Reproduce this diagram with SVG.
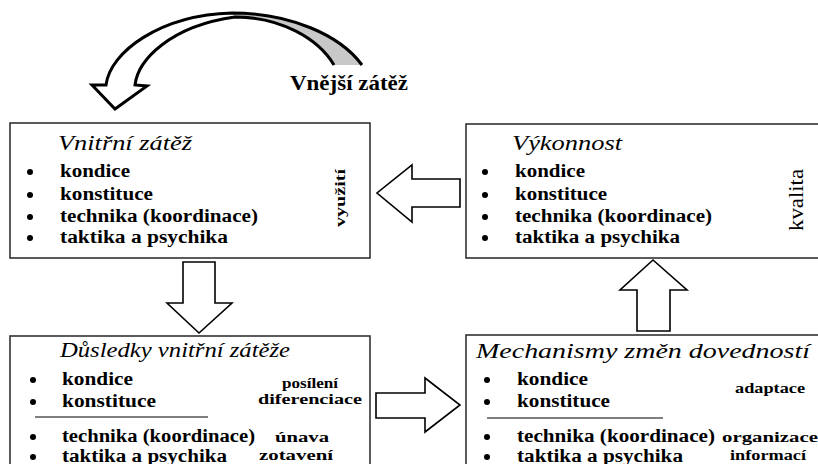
<svg xmlns="http://www.w3.org/2000/svg" width="818" height="464" viewBox="0 0 818 464">
<style>
.box{fill:#fff;stroke:#333;stroke-width:1.6}
.arr{fill:#fff;stroke:#000;stroke-width:1.6;stroke-linejoin:miter}
.sep{stroke:#000;stroke-width:1.2}
.t{font-family:"Liberation Serif","Times New Roman","DejaVu Serif",serif;font-size:20px;font-style:italic;fill:#000}
.b{font-family:"Liberation Serif","Times New Roman","DejaVu Serif",serif;font-size:18px;font-weight:bold;fill:#000}
.l{font-family:"Liberation Serif","Times New Roman","DejaVu Serif",serif;font-size:14px;font-weight:bold;fill:#000}
.r{font-family:"Liberation Serif","Times New Roman","DejaVu Serif",serif;fill:#000}
.dot{fill:#000}
</style>
<rect width="818" height="464" fill="#fff"/>

<g id="external-load">
  <path d="M235,17 C280,17 318,38 334,65 L362,65 C340,35 290,13 232,13 Z" fill="#c8c8c8"/>
  <path d="M362,65 C340,35 290,13 232,13 C160,15 110,52 106,85 L92,85 L115,109 L147,86 L135,85 C138,60 170,26 235,17 C280,17 318,38 334,65" fill="none" stroke="#000" stroke-width="3" stroke-linejoin="miter"/>
  <text class="r" x="290" y="90" font-size="21" font-weight="bold" textLength="118" lengthAdjust="spacingAndGlyphs">Vnější zátěž</text>
</g>

<g id="vnitrni-zatez">
  <rect class="box" x="10" y="123" width="360" height="135"/>
  <text class="t" x="58" y="150" textLength="134" lengthAdjust="spacingAndGlyphs">Vnitřní zátěž</text>
  <circle class="dot" cx="30" cy="172" r="3"/>
  <circle class="dot" cx="30" cy="195" r="3"/>
  <circle class="dot" cx="30" cy="217" r="3"/>
  <circle class="dot" cx="30" cy="238" r="3"/>
  <text class="b" x="60" y="177" textLength="70" lengthAdjust="spacingAndGlyphs">kondice</text>
  <text class="b" x="60" y="200" textLength="93" lengthAdjust="spacingAndGlyphs">konstituce</text>
  <text class="b" x="60" y="222" textLength="198" lengthAdjust="spacingAndGlyphs">technika (koordinace)</text>
  <text class="b" x="60" y="243" textLength="168" lengthAdjust="spacingAndGlyphs">taktika a psychika</text>
  <text class="l" transform="translate(345,227) rotate(-90)" font-size="17" textLength="58" lengthAdjust="spacingAndGlyphs">využití</text>
</g>

<g id="vykonnost">
  <rect class="box" x="466" y="124" width="360" height="134"/>
  <text class="t" x="512" y="150" textLength="110" lengthAdjust="spacingAndGlyphs">Výkonnost</text>
  <circle class="dot" cx="485" cy="172" r="3"/>
  <circle class="dot" cx="485" cy="195" r="3"/>
  <circle class="dot" cx="485" cy="217" r="3"/>
  <circle class="dot" cx="485" cy="238" r="3"/>
  <text class="b" x="515" y="177" textLength="70" lengthAdjust="spacingAndGlyphs">kondice</text>
  <text class="b" x="515" y="200" textLength="92" lengthAdjust="spacingAndGlyphs">konstituce</text>
  <text class="b" x="515" y="222" textLength="197" lengthAdjust="spacingAndGlyphs">technika (koordinace)</text>
  <text class="b" x="515" y="243" textLength="165" lengthAdjust="spacingAndGlyphs">taktika a psychika</text>
  <text class="r" transform="translate(803,231) rotate(-90)" font-size="22" textLength="62" lengthAdjust="spacingAndGlyphs">kvalita</text>
</g>

<g id="dusledky">
  <rect class="box" x="10" y="336" width="360" height="140"/>
  <text class="t" x="60" y="357" textLength="230" lengthAdjust="spacingAndGlyphs">Důsledky vnitřní zátěže</text>
  <circle class="dot" cx="33" cy="380" r="3"/>
  <circle class="dot" cx="33" cy="402" r="3"/>
  <circle class="dot" cx="33" cy="437" r="3"/>
  <circle class="dot" cx="33" cy="457" r="3"/>
  <text class="b" x="62" y="385" textLength="71" lengthAdjust="spacingAndGlyphs">kondice</text>
  <text class="b" x="62" y="407" textLength="94" lengthAdjust="spacingAndGlyphs">konstituce</text>
  <line class="sep" x1="35" y1="417" x2="208" y2="417"/>
  <text class="b" x="62" y="442" textLength="193" lengthAdjust="spacingAndGlyphs">technika (koordinace)</text>
  <text class="b" x="62" y="462" textLength="165" lengthAdjust="spacingAndGlyphs">taktika a psychika</text>
  <text class="l" x="310" y="388" text-anchor="middle" textLength="56" lengthAdjust="spacingAndGlyphs">posílení</text>
  <text class="l" x="310" y="404" text-anchor="middle" textLength="104" lengthAdjust="spacingAndGlyphs">diferenciace</text>
  <text class="l" x="302" y="442" text-anchor="middle" textLength="54" lengthAdjust="spacingAndGlyphs">únava</text>
  <text class="l" x="296" y="460" text-anchor="middle" textLength="74" lengthAdjust="spacingAndGlyphs">zotavení</text>
</g>

<g id="mechanismy">
  <rect class="box" x="466" y="335" width="360" height="140"/>
  <text class="t" x="476" y="358" textLength="334" lengthAdjust="spacingAndGlyphs">Mechanismy změn dovedností</text>
  <circle class="dot" cx="487" cy="380" r="3"/>
  <circle class="dot" cx="487" cy="402" r="3"/>
  <circle class="dot" cx="487" cy="437" r="3"/>
  <circle class="dot" cx="487" cy="457" r="3"/>
  <text class="b" x="517" y="385" textLength="71" lengthAdjust="spacingAndGlyphs">kondice</text>
  <text class="b" x="517" y="407" textLength="93" lengthAdjust="spacingAndGlyphs">konstituce</text>
  <line class="sep" x1="487" y1="418" x2="663" y2="418"/>
  <text class="b" x="517" y="442" textLength="198" lengthAdjust="spacingAndGlyphs">technika (koordinace)</text>
  <text class="b" x="517" y="462" textLength="166" lengthAdjust="spacingAndGlyphs">taktika a psychika</text>
  <text class="l" x="735" y="393" textLength="70" lengthAdjust="spacingAndGlyphs">adaptace</text>
  <text class="l" x="722" y="442" textLength="96" lengthAdjust="spacingAndGlyphs">organizace</text>
  <text class="l" x="730" y="460" textLength="76" lengthAdjust="spacingAndGlyphs">informací</text>
</g>

<g id="connectors">
  <polygon class="arr" points="460,179 412,179 412,165 377,193 412,222 412,207 460,207"/>
  <polygon class="arr" points="183,262 215,262 215,303 232,303 199,333 167,303 183,303"/>
  <polygon class="arr" points="637,331 637,290 620,290 653,260 687,290 670,290 670,331"/>
  <polygon class="arr" points="376,393 425,393 425,378 460,405 425,432 425,418 376,418"/>
</g>
</svg>
